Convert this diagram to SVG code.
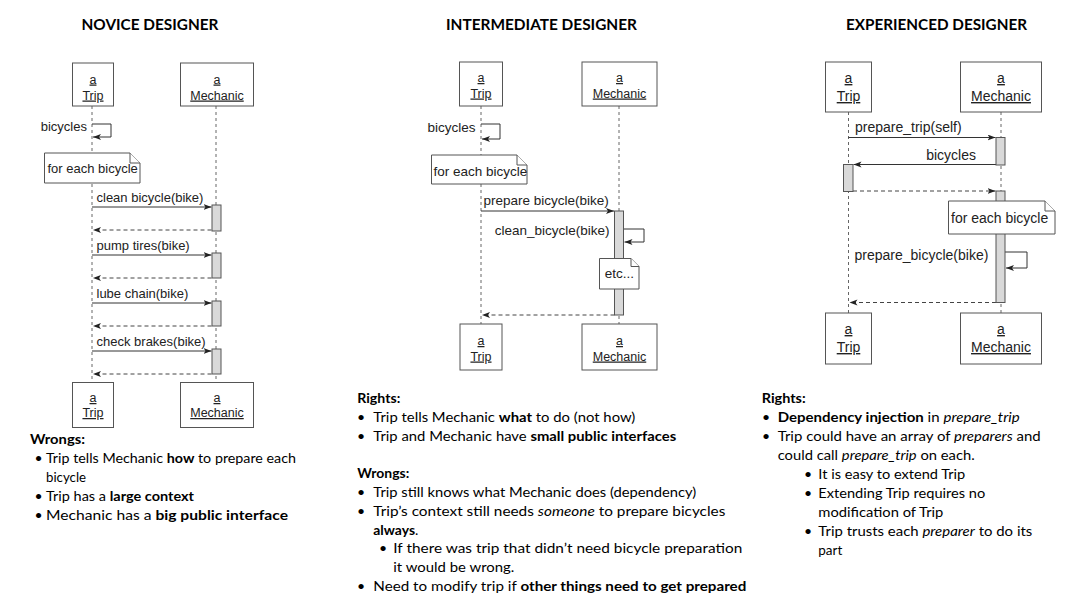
<svg xmlns="http://www.w3.org/2000/svg" width="1089" height="613" viewBox="0 0 1089 613">
<defs>
<style>
.t{font-family:Lato,"Open Sans",sans-serif;font-size:14px;fill:#000}
.h{font-family:Lato,"Open Sans",sans-serif;font-weight:bold;font-size:15px;fill:#000}
.b{font-weight:bold}
.i{font-style:italic}
.d{font-family:"Liberation Sans",Arial,sans-serif;fill:#222}
.u{text-decoration:underline}
.box{fill:#fff;stroke:#555;stroke-width:1}
.note{fill:#fff;stroke:#555;stroke-width:1}
.life{stroke:#666;stroke-width:1;stroke-dasharray:3,3;fill:none}
.msg{stroke:#333;stroke-width:1;fill:none;marker-end:url(#ah)}
.ret{stroke:#444;stroke-width:1;stroke-dasharray:4,3;fill:none;marker-end:url(#ah)}
.bar{fill:#d9d9d9;stroke:#555;stroke-width:1}
</style>
<marker id="ah" markerUnits="userSpaceOnUse" markerWidth="10" markerHeight="8" refX="8" refY="3" orient="auto">
<path d="M0,0 L8,3 L0,6 L2,3 Z" fill="#222"/>
</marker>
</defs>
<rect width="1089" height="613" fill="#fff"/>

<!-- Titles -->
<text class="h" x="150" y="30" text-anchor="middle" textLength="137" lengthAdjust="spacingAndGlyphs">NOVICE DESIGNER</text>
<text class="h" x="541.5" y="30" text-anchor="middle" textLength="191" lengthAdjust="spacingAndGlyphs">INTERMEDIATE DESIGNER</text>
<text class="h" x="936.5" y="30" text-anchor="middle" textLength="181" lengthAdjust="spacingAndGlyphs">EXPERIENCED DESIGNER</text>

<g id="connectors">
<!-- novice lifelines -->
<line class="life" x1="92" y1="106" x2="92" y2="382"/>
<line class="life" x1="216" y1="106" x2="216" y2="382"/>
<!-- intermediate lifelines -->
<line class="life" x1="481" y1="106" x2="481" y2="324"/>
<line class="life" x1="619" y1="106" x2="619" y2="324"/>
<!-- experienced lifelines -->
<line class="life" x1="848.5" y1="112" x2="848.5" y2="313"/>
<line class="life" x1="1001" y1="112" x2="1001" y2="313"/>

<!-- novice messages -->
<path class="msg" d="M92,124 H111 V137 H93"/>
<line class="msg" x1="92" y1="207" x2="211.5" y2="207"/>
<line class="ret" x1="211.5" y1="230" x2="93" y2="230"/>
<line class="msg" x1="92" y1="255" x2="211.5" y2="255"/>
<line class="ret" x1="211.5" y1="278" x2="93" y2="278"/>
<line class="msg" x1="92" y1="303" x2="211.5" y2="303"/>
<line class="ret" x1="211.5" y1="326" x2="93" y2="326"/>
<line class="msg" x1="92" y1="351" x2="211.5" y2="351"/>
<line class="ret" x1="211.5" y1="374" x2="93" y2="374"/>

<!-- intermediate messages -->
<path class="msg" d="M481,124 H500 V139 H482"/>
<line class="msg" x1="481" y1="211" x2="614" y2="211"/>
<path class="msg" d="M623.5,229 H644 V242 H624.5"/>
<line class="ret" x1="614.5" y1="315" x2="482" y2="315"/>

<!-- experienced messages -->
<line class="msg" x1="848.5" y1="137.5" x2="995.5" y2="137.5"/>
<line class="msg" x1="996" y1="164.5" x2="853.5" y2="164.5"/>
<line class="ret" x1="853" y1="191" x2="995.5" y2="191"/>
<path class="msg" d="M1005,252 H1027 V268 H1006"/>
<line class="ret" x1="996" y1="302.5" x2="849.5" y2="302.5"/>
</g>

<g id="novice-activations">
<rect class="bar" x="212" y="205" width="9" height="26"/>
<rect class="bar" x="212" y="253" width="9" height="25"/>
<rect class="bar" x="212" y="301" width="9" height="25"/>
<rect class="bar" x="212" y="349" width="9" height="25"/>
</g>

<g id="novice-trip-top">
<rect class="box" x="72.5" y="63" width="41" height="43"/>
<text class="d u" x="93" y="83.5" font-size="12.5" text-anchor="middle">a</text>
<text class="d u" x="93" y="99.5" font-size="12.5" text-anchor="middle">Trip</text>
</g>
<g id="novice-mechanic-top">
<rect class="box" x="180.5" y="63" width="73" height="43"/>
<text class="d u" x="217" y="83.5" font-size="12.5" text-anchor="middle">a</text>
<text class="d u" x="217" y="99.5" font-size="12.5" text-anchor="middle">Mechanic</text>
</g>
<g id="novice-trip-bottom">
<rect class="box" x="72.5" y="382.5" width="41" height="45"/>
<text class="d u" x="93" y="402" font-size="12.5" text-anchor="middle">a</text>
<text class="d u" x="93" y="417" font-size="12.5" text-anchor="middle">Trip</text>
</g>
<g id="novice-mechanic-bottom">
<rect class="box" x="180.5" y="382.5" width="73" height="45"/>
<text class="d u" x="217" y="402" font-size="12.5" text-anchor="middle">a</text>
<text class="d u" x="217" y="417" font-size="12.5" text-anchor="middle">Mechanic</text>
</g>
<g id="novice-labels">
<text class="d" x="87" y="130.5" font-size="13" text-anchor="end">bicycles</text>
<text class="d" x="96.5" y="202" font-size="13">clean bicycle(bike)</text>
<text class="d" x="96.5" y="250" font-size="13">pump tires(bike)</text>
<text class="d" x="96.5" y="298" font-size="13">lube chain(bike)</text>
<text class="d" x="96.5" y="346" font-size="13">check brakes(bike)</text>
</g>
<g id="novice-note">
<path class="note" d="M44.5,153 H130 L140,163 V183 H44.5 Z"/>
<path class="note" d="M130,153 V163 H140"/>
<text class="d" x="47.5" y="172.5" font-size="13">for each bicycle</text>
</g>

<g id="inter-activations">
<rect class="bar" x="614.5" y="211" width="9" height="104"/>
</g>
<g id="inter-trip-top">
<rect class="box" x="459.5" y="62" width="43" height="44"/>
<text class="d u" x="481" y="82" font-size="12.5" text-anchor="middle">a</text>
<text class="d u" x="481" y="97.5" font-size="12.5" text-anchor="middle">Trip</text>
</g>
<g id="inter-mechanic-top">
<rect class="box" x="582" y="62" width="75" height="44"/>
<text class="d u" x="619.5" y="82" font-size="12.5" text-anchor="middle">a</text>
<text class="d u" x="619.5" y="97.5" font-size="12.5" text-anchor="middle">Mechanic</text>
</g>
<g id="inter-trip-bottom">
<rect class="box" x="460" y="324" width="42" height="46"/>
<text class="d u" x="481" y="345" font-size="12.5" text-anchor="middle">a</text>
<text class="d u" x="481" y="360.5" font-size="12.5" text-anchor="middle">Trip</text>
</g>
<g id="inter-mechanic-bottom">
<rect class="box" x="582" y="324" width="75" height="46"/>
<text class="d u" x="619.5" y="345" font-size="12.5" text-anchor="middle">a</text>
<text class="d u" x="619.5" y="360.5" font-size="12.5" text-anchor="middle">Mechanic</text>
</g>
<g id="inter-labels">
<text class="d" x="475.5" y="132" font-size="13.5" text-anchor="end">bicycles</text>
<text class="d" x="483.5" y="205" font-size="13.5">prepare bicycle(bike)</text>
<text class="d" x="609.5" y="234.5" font-size="13.5" text-anchor="end">clean_bicycle(bike)</text>
</g>
<g id="inter-note-each">
<path class="note" d="M431.5,155 H517 L527,165 V184 H431.5 Z"/>
<path class="note" d="M517,155 V165 H527"/>
<text class="d" x="433.5" y="175.5" font-size="13.5">for each bicycle</text>
</g>
<g id="inter-note-etc">
<path class="note" d="M599.5,258.5 H631 L639,266.5 V289 H599.5 Z"/>
<path class="note" d="M631,258.5 V266.5 H639"/>
<text class="d" x="619.5" y="278" font-size="13.5" text-anchor="middle">etc...</text>
</g>

<g id="exp-activations">
<rect class="bar" x="996" y="137.5" width="9" height="27.5"/>
<rect class="bar" x="843.5" y="164.5" width="9.5" height="27"/>
<rect class="bar" x="996" y="191" width="9" height="111.5"/>
</g>
<g id="exp-trip-top">
<rect class="box" x="825.5" y="62" width="46" height="50"/>
<text class="d u" x="848.5" y="83" font-size="14" text-anchor="middle">a</text>
<text class="d u" x="848.5" y="101" font-size="14" text-anchor="middle">Trip</text>
</g>
<g id="exp-mechanic-top">
<rect class="box" x="960.5" y="62" width="81" height="50"/>
<text class="d u" x="1001" y="83" font-size="14" text-anchor="middle">a</text>
<text class="d u" x="1001" y="101" font-size="14" text-anchor="middle">Mechanic</text>
</g>
<g id="exp-trip-bottom">
<rect class="box" x="825.5" y="313" width="46" height="51"/>
<text class="d u" x="848.5" y="334" font-size="14" text-anchor="middle">a</text>
<text class="d u" x="848.5" y="352" font-size="14" text-anchor="middle">Trip</text>
</g>
<g id="exp-mechanic-bottom">
<rect class="box" x="960.5" y="313" width="81" height="51"/>
<text class="d u" x="1001" y="334" font-size="14" text-anchor="middle">a</text>
<text class="d u" x="1001" y="352" font-size="14" text-anchor="middle">Mechanic</text>
</g>
<g id="exp-labels">
<text class="d" x="855" y="132" font-size="14">prepare_trip(self)</text>
<text class="d" x="976" y="160" font-size="14" text-anchor="end">bicycles</text>
<text class="d" x="854.5" y="260" font-size="14">prepare_bicycle(bike)</text>
</g>
<g id="exp-note">
<path class="note" d="M948.5,201 H1045 L1055,211 V234 H948.5 Z"/>
<path class="note" d="M1045,201 V211 H1055"/>
<text class="d" x="951" y="222.5" font-size="14">for each bicycle</text>
</g>

<g id="novice-text">
<text class="t b" x="30" y="444" textLength="55" lengthAdjust="spacingAndGlyphs">Wrongs:</text>
<text class="t" x="38.5" y="463.3" text-anchor="middle">•</text>
<text class="t" x="46" y="463.3" textLength="250" lengthAdjust="spacingAndGlyphs">Trip tells Mechanic <tspan class="b">how</tspan> to prepare each</text>
<text class="t" x="46" y="481.7" textLength="40" lengthAdjust="spacingAndGlyphs">bicycle</text>
<text class="t" x="38.5" y="500.7" text-anchor="middle">•</text>
<text class="t" x="46" y="500.7" textLength="148" lengthAdjust="spacingAndGlyphs">Trip has a <tspan class="b">large context</tspan></text>
<text class="t" x="38.5" y="520" text-anchor="middle">•</text>
<text class="t" x="46" y="520" textLength="242" lengthAdjust="spacingAndGlyphs">Mechanic has a <tspan class="b">big public interface</tspan></text>
</g>

<g id="intermediate-text">
<text class="t b" x="357.3" y="403.3" textLength="43" lengthAdjust="spacingAndGlyphs">Rights:</text>
<text class="t" x="361" y="421.7" text-anchor="middle">•</text>
<text class="t" x="373.3" y="421.7" textLength="262" lengthAdjust="spacingAndGlyphs">Trip tells Mechanic <tspan class="b">what</tspan> to do (not how)</text>
<text class="t" x="361" y="440.7" text-anchor="middle">•</text>
<text class="t" x="373.3" y="440.7" textLength="303" lengthAdjust="spacingAndGlyphs">Trip and Mechanic have <tspan class="b">small public interfaces</tspan></text>
<text class="t b" x="357.3" y="478.3" textLength="52" lengthAdjust="spacingAndGlyphs">Wrongs:</text>
<text class="t" x="361" y="496.7" text-anchor="middle">•</text>
<text class="t" x="373.3" y="496.7" textLength="323" lengthAdjust="spacingAndGlyphs">Trip still knows what Mechanic does (dependency)</text>
<text class="t" x="361" y="516" text-anchor="middle">•</text>
<text class="t" x="373.3" y="516" textLength="352" lengthAdjust="spacingAndGlyphs">Trip’s context still needs <tspan class="i">someone</tspan> to prepare bicycles</text>
<text class="t" x="373.3" y="535" textLength="45" lengthAdjust="spacingAndGlyphs"><tspan class="b">always</tspan>.</text>
<text class="t" x="383" y="553.3" text-anchor="middle">•</text>
<text class="t" x="393.3" y="553.3" textLength="349" lengthAdjust="spacingAndGlyphs">If there was trip that didn’t need bicycle preparation</text>
<text class="t" x="393.3" y="571.7" textLength="121" lengthAdjust="spacingAndGlyphs">it would be wrong.</text>
<text class="t" x="361" y="590.7" text-anchor="middle">•</text>
<text class="t" x="373.3" y="590.7" textLength="373" lengthAdjust="spacingAndGlyphs">Need to modify trip if <tspan class="b">other things need to get prepared</tspan></text>
</g>

<g id="experienced-text">
<text class="t b" x="761.7" y="403.3" textLength="44" lengthAdjust="spacingAndGlyphs">Rights:</text>
<text class="t" x="766" y="421.7" text-anchor="middle">•</text>
<text class="t" x="777.7" y="421.7" textLength="242" lengthAdjust="spacingAndGlyphs"><tspan class="b">Dependency injection</tspan> in <tspan class="i">prepare_trip</tspan></text>
<text class="t" x="766" y="441" text-anchor="middle">•</text>
<text class="t" x="777.7" y="441" textLength="263" lengthAdjust="spacingAndGlyphs">Trip could have an array of <tspan class="i">preparers</tspan> and</text>
<text class="t" x="777.7" y="460" textLength="197" lengthAdjust="spacingAndGlyphs">could call <tspan class="i">prepare_trip</tspan> on each.</text>
<text class="t" x="808" y="479" text-anchor="middle">•</text>
<text class="t" x="818.3" y="479" textLength="147" lengthAdjust="spacingAndGlyphs">It is easy to extend Trip</text>
<text class="t" x="808" y="498.3" text-anchor="middle">•</text>
<text class="t" x="818.3" y="498.3" textLength="167" lengthAdjust="spacingAndGlyphs">Extending Trip requires no</text>
<text class="t" x="818.3" y="516.7" textLength="125" lengthAdjust="spacingAndGlyphs">modification of Trip</text>
<text class="t" x="808" y="535.7" text-anchor="middle">•</text>
<text class="t" x="818.3" y="535.7" textLength="214" lengthAdjust="spacingAndGlyphs">Trip trusts each <tspan class="i">preparer</tspan> to do its</text>
<text class="t" x="818.3" y="555" textLength="24" lengthAdjust="spacingAndGlyphs">part</text>
</g>
</svg>
